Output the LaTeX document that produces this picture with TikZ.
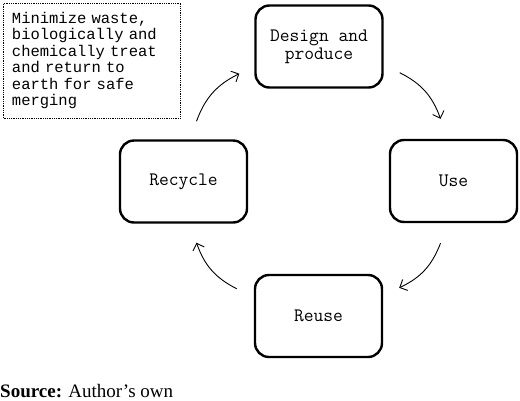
\documentclass[tikz,border=0pt]{standalone}
\usepackage{fontspec}
\setmainfont{Liberation Serif}
\newfontfamily\notefont{Liberation Mono}
\usetikzlibrary{arrows.meta,calc}
\begin{document}
\begin{tikzpicture}[x=1pt,y=-1pt,
  stage/.style={draw,rectangle,rounded corners=14pt,line width=2.4pt,
    minimum width=127pt,minimum height=82pt,align=center,inner sep=0pt,
    font=\ttfamily\fontsize{19}{18}\selectfont},
  flow/.style={-{Straight Barb[length=6pt,width=12pt]},line width=0.9pt},
  notebox/.style={draw,densely dotted,line width=0.8pt,rectangle,
    text width=160pt,inner xsep=8.5pt,minimum height=115pt,align=left,
    font=\notefont\fontsize{15.5}{16.5}\selectfont}]
\useasboundingbox (0,0) rectangle (520,400);
\node[notebox] (note) at (92,60.5) {Minimize waste,\\biologically and\\chemically treat\\and return to\\earth for safe\\merging};
\node[stage] (design) at (319,46.5) {Design and\\produce};
\node[stage] (use) at (453.5,181) {Use};
\node[stage] (recycle) at (183.5,181.5) {Recycle};
\node[stage] (reuse) at (318.5,316) {Reuse};
\draw[flow] ([shift={(16,-16)}]design.south east) to[bend left=22] ([shift={(-13,-20)}]use.north);
\draw[flow] ([shift={(-13,20)}]use.south) to[bend left=22] ([shift={(16,14)}]reuse.north east);
\draw[flow] ([shift={(-17,15)}]reuse.north west) to[bend left=22] ([shift={(13,19)}]recycle.south);
\draw[flow] ([shift={(13,-18)}]recycle.north) to[bend left=22] ([shift={(-15,-15)}]design.south west);
\node[anchor=base west,inner sep=0pt,font=\fontsize{19}{20}\selectfont] (src) at (0,397) {\textbf{Source:} Author’s own};
\end{tikzpicture}
\end{document}
